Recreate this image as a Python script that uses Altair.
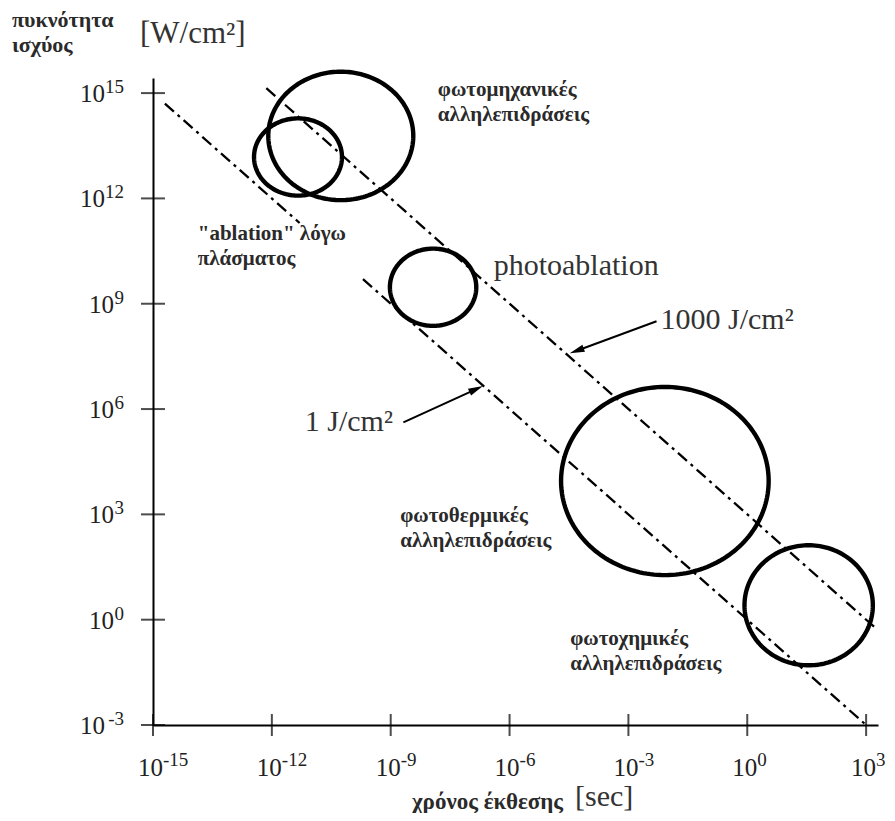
import math
import altair as alt
import numpy as np
import pandas as pd

# ---------------- data (log10 units) ----------------
x_ticks = [-15, -12, -9, -6, -3, 0, 3]
x_tick_exp = ["-15", "-12", "-9", "-6", "-3", "0", "3"]
y_ticks = [-3, 0, 3, 6, 9, 12, 15]
y_tick_exp = ["-3", "0", "3", "6", "9", "12", "15"]

X_MIN, X_MAX = -15, 3.3
Y_MIN, Y_MAX = -3, 15.43

# interaction regions (ellipses): centre and radii in decades
ell_id = ["mech_big", "plasma", "photoablation", "thermal", "chemical"]
ell_cx = [-10.26, -11.34, -7.93, -2.08, 1.55]
ell_cy = [13.78, 13.18, 9.47, 3.95, 0.41]
ell_rx = [1.83, 1.11, 1.09, 2.62, 1.62]
ell_ry = [1.83, 1.10, 1.10, 2.68, 1.71]

# constant-fluence lines: log10(J/cm2), x start, x end
flu_seg = ["f1000", "f1a", "f1b"]
flu_log = [3, 0, 0]
flu_x0 = [-12.14, -14.70, -9.70]
flu_x1 = [3.28, -11.30, 2.97]

# arrows (tail -> tip)
arr_tail_x = [-2.29, -8.68]
arr_tail_y = [8.50, 5.62]
arr_tip_x = [-4.47, -6.68]
arr_tip_y = [7.59, 6.65]

# ---------------- layout ----------------
W, H = 725, 647
PAD = {"left": 145, "top": 70, "right": 7, "bottom": 88}
sx = W / (X_MAX - X_MIN)
sy = H / (Y_MAX - Y_MIN)

SERIF = "Liberation Serif"
TXT = "#2a2a2a"

xs = alt.Scale(domain=[X_MIN, X_MAX], nice=False, zero=False)
ys = alt.Scale(domain=[Y_MIN, Y_MAX], nice=False, zero=False)
xax = alt.Axis(domain=True, domainColor="black", domainWidth=2, ticks=False,
               labels=False, grid=False, title=None)
yax = alt.Axis(domain=True, domainColor="black", domainWidth=2, ticks=False,
               labels=False, grid=False, title=None)


def X(f):
    return alt.X(f, type="quantitative", scale=xs, axis=xax)


def Y(f):
    return alt.Y(f, type="quantitative", scale=ys, axis=yax)


# ellipse outlines
rows = []
theta = np.linspace(0, 2 * np.pi, 181)
for i, name in enumerate(ell_id):
    for k, t in enumerate(theta):
        rows.append({"id": name, "k": k,
                     "x": ell_cx[i] + ell_rx[i] * np.cos(t),
                     "y": ell_cy[i] + ell_ry[i] * np.sin(t)})
ell_df = pd.DataFrame(rows)

ellipses = alt.Chart(ell_df).mark_line(color="black", strokeWidth=4.4).encode(
    x=X("x"), y=Y("y"), detail="id:N", order="k:Q")

# fluence lines
lrows = []
for i, s in enumerate(flu_seg):
    for j, xv in enumerate([flu_x0[i], flu_x1[i]]):
        lrows.append({"seg": s, "k": j, "x": xv, "y": flu_log[i] - xv})
line_df = pd.DataFrame(lrows)
flu_lines = alt.Chart(line_df).mark_line(
    color="black", strokeWidth=2.3, strokeDash=[12, 5, 3, 5]).encode(
    x=X("x"), y=Y("y"), detail="seg:N", order="k:Q")

# axis ticks (crossing)
xt_df = pd.DataFrame({"x": x_ticks, "y": [Y_MIN] * len(x_ticks), "e": x_tick_exp})
yt_df = pd.DataFrame({"y": y_ticks, "x": [X_MIN] * len(y_ticks), "e": y_tick_exp})
xtick = alt.Chart(xt_df).mark_tick(orient="vertical", size=22, thickness=2,
                                   color="black").encode(x=X("x"), y=Y("y"))
ytick = alt.Chart(yt_df).mark_tick(orient="horizontal", size=24, thickness=2,
                                   color="black").encode(x=X("x"), y=Y("y"))

# tick labels
xbase = alt.Chart(xt_df).mark_text(font=SERIF, fontSize=25, align="right",
                                   baseline="middle", dx=10, dy=43,
                                   color="#222").encode(
    x=X("x"), y=Y("y"), text=alt.value("10"))
xsup = alt.Chart(xt_df).mark_text(font=SERIF, fontSize=19, align="left",
                                  baseline="middle", dx=10, dy=35,
                                  color="#222").encode(
    x=X("x"), y=Y("y"), text="e:N")
ysup = alt.Chart(yt_df).mark_text(font=SERIF, fontSize=19, align="right",
                                  baseline="middle", dx=-29, dy=-6,
                                  color="#222").encode(
    x=X("x"), y=Y("y"), text="e:N")
ybase1 = alt.Chart(yt_df).transform_filter("length(datum.e) == 1").mark_text(
    font=SERIF, fontSize=25, align="right", baseline="middle", dx=-39,
    dy=1, color="#222").encode(x=X("x"), y=Y("y"), text=alt.value("10"))
ybase2 = alt.Chart(yt_df).transform_filter("length(datum.e) == 2").mark_text(
    font=SERIF, fontSize=25, align="right", baseline="middle", dx=-48,
    dy=1, color="#222").encode(x=X("x"), y=Y("y"), text=alt.value("10"))

# arrows
arows = []
heads = []
for i in range(len(arr_tail_x)):
    dxp = (arr_tip_x[i] - arr_tail_x[i]) * sx
    dyp = -(arr_tip_y[i] - arr_tail_y[i]) * sy
    n = math.hypot(dxp, dyp)
    back = 7.0 / n
    hx = arr_tip_x[i] - (arr_tip_x[i] - arr_tail_x[i]) * back
    hy = arr_tip_y[i] - (arr_tip_y[i] - arr_tail_y[i]) * back
    ang = math.degrees(math.atan2(dxp, -dyp)) % 360
    arows.append({"x": arr_tail_x[i], "y": arr_tail_y[i], "x2": hx, "y2": hy})
    heads.append({"x": hx, "y": hy, "a": ang})
arr_df = pd.DataFrame(arows)
head_df = pd.DataFrame(heads)
arr_lines = alt.Chart(arr_df).mark_rule(color="black", strokeWidth=2).encode(
    x=X("x"), y=Y("y"), x2="x2:Q", y2="y2:Q")
arr_heads = alt.Chart(head_df).mark_point(
    shape="M0,-1L0.5,1L-0.5,1Z", filled=True, color="black", opacity=1,
    size=220).encode(x=X("x"), y=Y("y"), angle=alt.Angle("a:Q", scale=None))


# text annotations
def note(text, x, y, size, bold=False, align="left", color=TXT):
    df = pd.DataFrame({"t": [text]})
    return alt.Chart(df).mark_text(
        font=SERIF, fontSize=size, fontWeight="bold" if bold else "normal",
        align=align, baseline="middle", color=color).encode(
        x=x, y=y, text="t:N")


def dpos(xd, yd):
    return alt.datum(xd), alt.datum(yd)


def ppos(px, py):
    # page pixel -> plot-area pixel
    return alt.value(px - 8 - PAD["left"]), alt.value(py - 8 - PAD["top"])


GB = 21  # bold Greek annotation size
notes = []
for text, (xx, yy), size, bold, col in [
    ("πυκνότητα", ppos(12, 20), 22, True, TXT),
    ("ισχύος", ppos(12, 45), 22, True, TXT),
    ("[W/cm²]", ppos(140, 34), 31, False, "#333"),
    ("χρόνος έκθεσης", ppos(412, 802), 23, True, TXT),
    ("[sec]", ppos(575, 797), 30, False, "#333"),
    ("φωτομηχανικές", dpos(-7.81, 15.10), GB, True, TXT),
    ("αλληλεπιδράσεις", dpos(-7.81, 14.38), GB, True, TXT),
    ("\"ablation\" λόγω", dpos(-13.87, 10.98), GB, True, TXT),
    ("πλάσματος", dpos(-13.87, 10.27), GB, True, TXT),
    ("photoablation", dpos(-6.40, 10.07), 30, False, "#333"),
    ("1000 J/cm²", dpos(-2.19, 8.53), 30, False, "#333"),
    ("1 J/cm²", dpos(-11.17, 5.62), 30, False, "#333"),
    ("φωτοθερμικές", dpos(-8.76, 2.96), GB, True, TXT),
    ("αλληλεπιδράσεις", dpos(-8.76, 2.24), GB, True, TXT),
    ("φωτοχημικές", dpos(-4.47, -0.54), GB, True, TXT),
    ("αλληλεπιδράσεις", dpos(-4.47, -1.26), GB, True, TXT),
]:
    notes.append(note(text, xx, yy, size, bold, color=col))

chart = alt.layer(
    ellipses, flu_lines, xtick, ytick, xbase, xsup, ysup, ybase1, ybase2,
    arr_lines, arr_heads, *notes
).properties(
    width=W, height=H,
    autosize=alt.AutoSizeParams(type="none"),
    padding=PAD,
    background="white",
).configure_view(strokeWidth=0)

chart.save("out.html", embed_options={"renderer": "svg", "actions": False})
